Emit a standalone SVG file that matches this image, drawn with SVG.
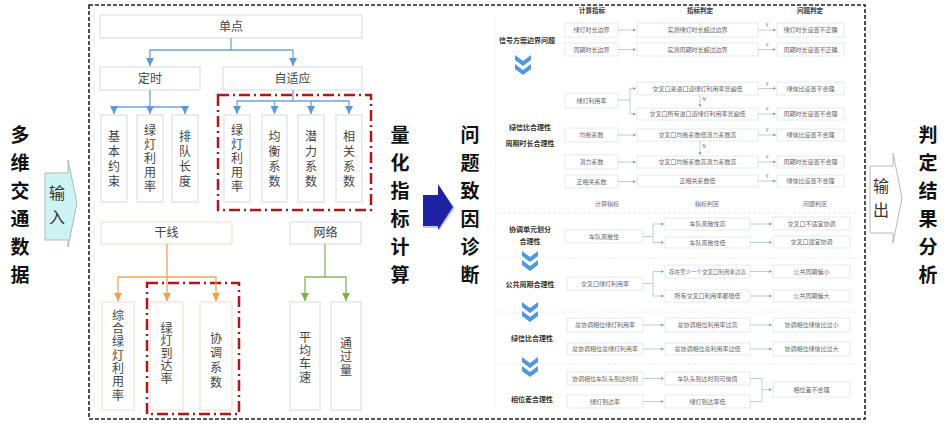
<svg xmlns="http://www.w3.org/2000/svg" width="948" height="429" viewBox="0 0 948 429">
<defs>
<style>
text{font-family:"Noto Sans CJK SC","Noto Sans",sans-serif;text-anchor:middle}
.v{writing-mode:vertical-rl;text-orientation:upright}
.big{font-size:19px;font-weight:bold;fill:#111}
.io{font-size:16px;fill:#333}
.t{font-size:12px;fill:#444}
.bx{fill:#fff;stroke:#d3dae2;stroke-width:1}
.bxo{fill:#fff;stroke:#f0dcc4;stroke-width:1}
.rd{fill:none;stroke:#b3151b;stroke-width:2.5;stroke-dasharray:11,4,2,4}
.cb{fill:none;stroke:#6ea6d8;stroke-width:1.3}
.co{fill:none;stroke:#f0a650;stroke-width:1.3}
.cg{fill:none;stroke:#86b85a;stroke-width:1.3}
.rb{fill:#fff;stroke:#dfe5ec;stroke-width:0.8}
.rc{fill:none;stroke:#9bbad6;stroke-width:0.7}
.s{font-size:6px;fill:#666}
.sh{font-size:6.5px;fill:#333;font-weight:bold}
.sl{font-size:7px;fill:#333;font-weight:bold}
.yn{font-size:5px;fill:#666}
.chev{fill:#4f97e0}
.sep{stroke:#ececec;stroke-width:1;stroke-dasharray:3,2}
</style>
<marker id="mb" viewBox="0 0 10 10" refX="10" refY="5" markerWidth="8" markerHeight="8" orient="auto" markerUnits="userSpaceOnUse"><path d="M0,0 L10,5 L0,10 z" fill="#5b9bd5"/></marker>
<marker id="mo" viewBox="0 0 10 10" refX="10" refY="5" markerWidth="8" markerHeight="8" orient="auto" markerUnits="userSpaceOnUse"><path d="M0,0 L10,5 L0,10 z" fill="#f0a040"/></marker>
<marker id="mg" viewBox="0 0 10 10" refX="10" refY="5" markerWidth="8" markerHeight="8" orient="auto" markerUnits="userSpaceOnUse"><path d="M0,0 L10,5 L0,10 z" fill="#7cb342"/></marker>
<marker id="ms" viewBox="0 0 10 10" refX="10" refY="5" markerWidth="3.5" markerHeight="3.5" orient="auto" markerUnits="userSpaceOnUse"><path d="M0,0 L10,5 L0,10 z" fill="#7fa8cc"/></marker>
</defs>

<rect width="948" height="429" fill="#fff"/>

<!-- outer dashed frame -->
<rect x="89" y="5" width="776" height="414" fill="none" stroke="#222" stroke-width="1.6" stroke-dasharray="4,2"/>

<!-- left title -->
<g id="title-input">
<text class="big v" x="20" y="135">多</text><text class="big v" x="20" y="163">维</text><text class="big v" x="20" y="191">交</text><text class="big v" x="20" y="219">通</text><text class="big v" x="20" y="247">数</text><text class="big v" x="20" y="275">据</text>
</g>
<g id="arrow-input">
<polygon points="45,173 68,173 68,160 77,203 68,247 68,240 45,240" fill="#cdf3f3" stroke="#a9b9bb" stroke-width="1"/>
<text class="io v" x="57" y="193">输</text><text class="io v" x="57" y="217">入</text>
</g>

<!-- top-left tree -->
<g id="n-dandian"><rect class="bx" x="100" y="15" width="262" height="23"/><text class="t" x="231" y="31">单点</text></g>
<g id="n-dingshi"><rect class="bx" x="100" y="67" width="100" height="23"/><text class="t" x="150" y="83">定时</text></g>
<g id="n-zishiying"><rect class="bx" x="223" y="67" width="139" height="23"/><text class="t" x="292.5" y="83">自适应</text></g>
<g id="n-jibenyueshu"><rect class="bx" x="101" y="115" width="26" height="87"/>
<text class="t v" x="114" y="136">基</text><text class="t v" x="114" y="151">本</text><text class="t v" x="114" y="166">约</text><text class="t v" x="114" y="181">束</text></g>
<g id="n-lvdeng1"><rect class="bx" x="137" y="115" width="26" height="87"/>
<text class="t v" x="150" y="130.5">绿</text><text class="t v" x="150" y="144.5">灯</text><text class="t v" x="150" y="158.5">利</text><text class="t v" x="150" y="172.5">用</text><text class="t v" x="150" y="186.5">率</text></g>
<g id="n-paidui"><rect class="bx" x="172" y="115" width="26" height="87"/>
<text class="t v" x="185" y="136">排</text><text class="t v" x="185" y="151">队</text><text class="t v" x="185" y="166">长</text><text class="t v" x="185" y="181">度</text></g>
<g id="n-lvdeng2"><rect class="bx" x="224" y="115" width="26" height="87"/>
<text class="t v" x="237" y="130.5">绿</text><text class="t v" x="237" y="144.5">灯</text><text class="t v" x="237" y="158.5">利</text><text class="t v" x="237" y="172.5">用</text><text class="t v" x="237" y="186.5">率</text></g>
<g id="n-junheng"><rect class="bx" x="262" y="115" width="25" height="87"/>
<text class="t v" x="274.5" y="136">均</text><text class="t v" x="274.5" y="151">衡</text><text class="t v" x="274.5" y="166">系</text><text class="t v" x="274.5" y="181">数</text></g>
<g id="n-qianli"><rect class="bx" x="298" y="115" width="26" height="87"/>
<text class="t v" x="311" y="136">潜</text><text class="t v" x="311" y="151">力</text><text class="t v" x="311" y="166">系</text><text class="t v" x="311" y="181">数</text></g>
<g id="n-xiangguan"><rect class="bx" x="336" y="115" width="26" height="87"/>
<text class="t v" x="349" y="136">相</text><text class="t v" x="349" y="151">关</text><text class="t v" x="349" y="166">系</text><text class="t v" x="349" y="181">数</text></g>

<!-- bottom-left tree -->
<g id="n-ganxian"><rect class="bxo" x="101" y="222" width="131" height="22"/><text class="t" x="166.5" y="237">干线</text></g>
<g id="n-wangluo"><rect class="bx" x="290" y="222" width="71" height="22"/><text class="t" x="325.5" y="237">网络</text></g>
<g id="n-zonghe"><rect class="bxo" x="102" y="302" width="32" height="108"/>
<text class="t v" x="118" y="315">综</text><text class="t v" x="118" y="328.3">合</text><text class="t v" x="118" y="341.7">绿</text><text class="t v" x="118" y="355">灯</text><text class="t v" x="118" y="368.3">利</text><text class="t v" x="118" y="381.7">用</text><text class="t v" x="118" y="395">率</text></g>
<g id="n-daoda"><rect class="bxo" x="150" y="302" width="33" height="108"/>
<text class="t v" x="166.5" y="328">绿</text><text class="t v" x="166.5" y="340.5">灯</text><text class="t v" x="166.5" y="353">到</text><text class="t v" x="166.5" y="365.5">达</text><text class="t v" x="166.5" y="378">率</text></g>
<g id="n-xietiao"><rect class="bxo" x="200" y="302" width="32" height="108"/>
<text class="t v" x="216" y="338">协</text><text class="t v" x="216" y="352.7">调</text><text class="t v" x="216" y="367.3">系</text><text class="t v" x="216" y="382">数</text></g>
<g id="n-pingjun"><rect class="bx" x="290" y="302" width="30" height="108"/>
<text class="t v" x="305" y="337">平</text><text class="t v" x="305" y="350.3">均</text><text class="t v" x="305" y="363.7">车</text><text class="t v" x="305" y="377">速</text></g>
<g id="n-tongguo"><rect class="bx" x="331" y="302" width="30" height="108"/>
<text class="t v" x="346" y="343">通</text><text class="t v" x="346" y="356.5">过</text><text class="t v" x="346" y="370">量</text></g>

<!-- red dash-dot highlight boxes -->
<rect class="rd" x="218" y="95" width="153" height="115"/>
<rect class="rd" x="147" y="283" width="92" height="131"/>

<!-- left connectors -->
<g id="connectors-left">
<path class="cb" d="M231,38 V50 H150 V66" marker-end="url(#mb)"/>
<path class="cb" d="M231,50 H293 V66" marker-end="url(#mb)"/>
<path class="cb" d="M150,90 V107 H114 V114" marker-end="url(#mb)"/>
<path class="cb" d="M150,107 V114" marker-end="url(#mb)"/>
<path class="cb" d="M150,107 H185 V114" marker-end="url(#mb)"/>
<path class="cb" d="M293,90 V101 H237 V114" marker-end="url(#mb)"/>
<path class="cb" d="M274.5,101 V114" marker-end="url(#mb)"/>
<path class="cb" d="M311,101 V114" marker-end="url(#mb)"/>
<path class="cb" d="M293,101 H349 V114" marker-end="url(#mb)"/>
<path class="co" d="M167,244 V277 H118 V301" marker-end="url(#mo)"/>
<path class="co" d="M167,277 V301" marker-end="url(#mo)"/>
<path class="co" d="M167,277 H216 V301" marker-end="url(#mo)"/>
<path class="cg" d="M325,244 V277 H305 V301" marker-end="url(#mg)"/>
<path class="cg" d="M325,277 H346 V301" marker-end="url(#mg)"/>
</g>

<!-- middle titles -->
<g id="title-calc">
<text class="big v" x="400" y="135">量</text><text class="big v" x="400" y="163">化</text><text class="big v" x="400" y="191">指</text><text class="big v" x="400" y="219">标</text><text class="big v" x="400" y="247">计</text><text class="big v" x="400" y="275">算</text>
</g>
<g id="arrow-mid">
<polygon points="425,197 439,197 439,186 455,208 439,231 439,228 423,228" fill="#c9cbd8"/>
<polygon points="423,195 438,195 438,184 453,207 438,230 438,226 423,226" fill="#1f23a3"/>
</g>
<g id="title-diag">
<text class="big v" x="470" y="135">问</text><text class="big v" x="470" y="163">题</text><text class="big v" x="470" y="191">致</text><text class="big v" x="470" y="219">因</text><text class="big v" x="470" y="247">诊</text><text class="big v" x="470" y="275">断</text>
</g>

<!-- right diagnosis chart -->
<line x1="495" y1="18" x2="495" y2="405" stroke="#f0f0f0" stroke-width="1"/>
<line class="sep" x1="498" y1="213" x2="860" y2="213"/>
<line class="sep" x1="498" y1="258" x2="860" y2="258"/>
<line class="sep" x1="498" y1="312" x2="860" y2="312"/>
<line class="sep" x1="498" y1="364" x2="860" y2="364"/>

<g id="r-headers">
<text class="sh" x="592" y="13">计算指标</text>
<text class="sh" x="700" y="13">指标判定</text>
<text class="sh" x="810" y="13">问题判定</text>
<text class="s" x="607" y="206">计算指标</text>
<text class="s" x="707" y="206">指标判定</text>
<text class="s" x="815" y="206">问题判定</text>
</g>

<g id="r-labels">
<text class="sl" x="527" y="43">信号方案边界问题</text>
<text class="sl" x="530" y="130">绿信比合理性</text>
<text class="sl" x="530" y="146">周期时长合理性</text>
<text class="sl" x="530" y="232">协调单元划分</text>
<text class="sl" x="530" y="244">合理性</text>
<text class="sl" x="530" y="287">公共周期合理性</text>
<text class="sl" x="532" y="341">绿信比合理性</text>
<text class="sl" x="532" y="402">相位差合理性</text>
</g>

<g id="r-chevrons">
<path class="chev" d="M515,55 L523,61 L531,55 L531,60 L523,66 L515,60 Z"/>
<path class="chev" d="M515,64 L523,70 L531,64 L531,69 L523,75 L515,69 Z"/>
<path class="chev" d="M522,251 L530,257 L538,251 L538,256 L530,262 L522,256 Z"/>
<path class="chev" d="M522,260 L530,266 L538,260 L538,265 L530,271 L522,265 Z"/>
<path class="chev" d="M522,302 L530,308 L538,302 L538,307 L530,313 L522,307 Z"/>
<path class="chev" d="M522,311 L530,317 L538,311 L538,316 L530,322 L522,316 Z"/>
<path class="chev" d="M522,357 L530,363 L538,357 L538,362 L530,368 L522,362 Z"/>
<path class="chev" d="M522,366 L530,372 L538,366 L538,371 L530,377 L522,371 Z"/>
</g>

<!-- top section boxes -->
<g id="r-c1"><rect class="rb" x="565" y="23" width="53" height="14"/><text class="s" x="591.5" y="32">绿灯时长边界</text></g>
<g id="r-c2"><rect class="rb" x="565" y="43" width="53" height="13"/><text class="s" x="591.5" y="51.5">周期时长边界</text></g>
<g id="r-i1"><rect class="rb" x="637" y="23" width="121" height="14"/><text class="s" x="697.5" y="32">实测绿灯时长超过边界</text></g>
<g id="r-i2"><rect class="rb" x="637" y="43" width="121" height="13"/><text class="s" x="697.5" y="51.5">实测周期时长超过边界</text></g>
<g id="r-p1"><rect class="rb" x="777" y="23" width="67" height="14"/><text class="s" x="810.5" y="32">绿灯时长设置不正确</text></g>
<g id="r-p2"><rect class="rb" x="777" y="43" width="67" height="13"/><text class="s" x="810.5" y="51.5">周期时长设置不正确</text></g>

<g id="r-c3"><rect class="rb" x="565" y="93" width="53" height="15"/><text class="s" x="591.5" y="102.5">绿灯利用率</text></g>
<g id="r-i3"><rect class="rb" x="637" y="82" width="121" height="13"/><text class="s" x="697.5" y="90.5">交叉口某进口道绿灯利用率普遍低</text></g>
<g id="r-i4"><rect class="rb" x="637" y="108" width="121" height="12"/><text class="s" x="697.5" y="116">交叉口所有进口道绿灯利用率普遍低</text></g>
<g id="r-p3"><rect class="rb" x="777" y="82" width="67" height="13"/><text class="s" x="810.5" y="90.5">绿信比设置不合理</text></g>
<g id="r-p4"><rect class="rb" x="777" y="108" width="67" height="12"/><text class="s" x="810.5" y="116">周期时长设置不合理</text></g>

<g id="r-c4"><rect class="rb" x="565" y="128" width="53" height="14"/><text class="s" x="591.5" y="137">均衡系数</text></g>
<g id="r-i5"><rect class="rb" x="637" y="129" width="121" height="12"/><text class="s" x="697.5" y="137">交叉口均衡系数低潜力系数高</text></g>
<g id="r-p5"><rect class="rb" x="777" y="129" width="67" height="12"/><text class="s" x="810.5" y="137">绿信比设置不合理</text></g>
<g id="r-c5"><rect class="rb" x="565" y="155" width="53" height="14"/><text class="s" x="591.5" y="164">潜力系数</text></g>
<g id="r-i6"><rect class="rb" x="637" y="156" width="121" height="12"/><text class="s" x="697.5" y="164">交叉口均衡系数高潜力系数高</text></g>
<g id="r-p6"><rect class="rb" x="777" y="156" width="67" height="12"/><text class="s" x="810.5" y="164">周期时长设置不合理</text></g>
<g id="r-c6"><rect class="rb" x="565" y="175" width="53" height="13"/><text class="s" x="591.5" y="183.5">正相关系数</text></g>
<g id="r-i7"><rect class="rb" x="637" y="175" width="121" height="12"/><text class="s" x="697.5" y="183">正相关系数低</text></g>
<g id="r-p7"><rect class="rb" x="777" y="175" width="67" height="12"/><text class="s" x="810.5" y="183">绿信比设置不合理</text></g>

<!-- lower section boxes -->
<g id="r-c7"><rect class="rb" x="565" y="230" width="78" height="13"/><text class="s" x="604" y="238.5">车队离散性</text></g>
<g id="r-i8"><rect class="rb" x="665" y="218" width="85" height="12"/><text class="s" x="707.5" y="226">车队离散性高</text></g>
<g id="r-i9"><rect class="rb" x="665" y="237" width="85" height="11"/><text class="s" x="707.5" y="244.5">车队离散性低</text></g>
<g id="r-p8"><rect class="rb" x="773" y="217" width="77" height="13"/><text class="s" x="811.5" y="225.5">交叉口不适宜协调</text></g>
<g id="r-p9"><rect class="rb" x="773" y="236" width="77" height="12"/><text class="s" x="811.5" y="244">交叉口适宜协调</text></g>

<g id="r-c8"><rect class="rb" x="567" y="277" width="76" height="13"/><text class="s" x="605" y="285.5">交叉口绿灯利用率</text></g>
<g id="r-i10"><rect class="rb" x="665" y="265" width="85" height="13"/><text class="s" style="font-size:5.5px" x="707.5" y="273.5">存在至少一个交叉口利用率过高</text></g>
<g id="r-i11"><rect class="rb" x="665" y="290" width="85" height="12"/><text class="s" x="707.5" y="298">所有交叉口利用率都很低</text></g>
<g id="r-p10"><rect class="rb" x="773" y="265" width="77" height="13"/><text class="s" x="811.5" y="273.5">公共周期偏小</text></g>
<g id="r-p11"><rect class="rb" x="773" y="290" width="77" height="12"/><text class="s" x="811.5" y="298">公共周期偏大</text></g>

<g id="r-c9"><rect class="rb" x="567" y="318" width="76" height="14"/><text class="s" x="605" y="327">总协调相位绿灯利用率</text></g>
<g id="r-c10"><rect class="rb" x="567" y="343" width="76" height="12"/><text class="s" x="605" y="351">总协调相位总绿灯利用率</text></g>
<g id="r-i12"><rect class="rb" x="665" y="318" width="85" height="14"/><text class="s" x="707.5" y="327">总协调相位利用率过高</text></g>
<g id="r-i13"><rect class="rb" x="665" y="343" width="85" height="12"/><text class="s" x="707.5" y="351">总协调相位总利用率过低</text></g>
<g id="r-p12"><rect class="rb" x="773" y="318" width="77" height="14"/><text class="s" x="811.5" y="327">协调相位绿信比过小</text></g>
<g id="r-p13"><rect class="rb" x="773" y="342" width="77" height="14"/><text class="s" x="811.5" y="351">协调相位绿信比过大</text></g>

<g id="r-c11"><rect class="rb" x="567" y="372" width="76" height="13"/><text class="s" x="605" y="380.5">协调相位车队头到达时刻</text></g>
<g id="r-c12"><rect class="rb" x="567" y="395" width="76" height="13"/><text class="s" x="605" y="403.5">绿灯到达率</text></g>
<g id="r-i14"><rect class="rb" x="665" y="372" width="85" height="13"/><text class="s" x="707.5" y="380.5">车队头到达时刻可信值</text></g>
<g id="r-i15"><rect class="rb" x="665" y="395" width="85" height="13"/><text class="s" x="707.5" y="403.5">绿灯到达率低</text></g>
<g id="r-p14"><rect class="rb" x="773" y="382" width="77" height="15"/><text class="s" x="811.5" y="391.5">相位差不合理</text></g>

<!-- right connectors -->
<g id="connectors-right">
<path class="rc" d="M618,30 H636" marker-end="url(#ms)"/>
<path class="rc" d="M618,49.5 H636" marker-end="url(#ms)"/>
<path class="rc" d="M758,30 H776" marker-end="url(#ms)"/>
<path class="rc" d="M758,49.5 H776" marker-end="url(#ms)"/>
<path class="rc" d="M618,100 H630 V88.5 H636" marker-end="url(#ms)"/>
<path class="rc" d="M630,100 V114 H636" marker-end="url(#ms)"/>
<path class="rc" d="M700,95 V107" marker-end="url(#ms)"/>
<path class="rc" d="M758,88.5 H776" marker-end="url(#ms)"/>
<path class="rc" d="M758,114 H776" marker-end="url(#ms)"/>
<path class="rc" d="M618,135 H636" marker-end="url(#ms)"/>
<path class="rc" d="M700,141 V155" marker-end="url(#ms)"/>
<path class="rc" d="M758,135 H776" marker-end="url(#ms)"/>
<path class="rc" d="M618,162 H636" marker-end="url(#ms)"/>
<path class="rc" d="M758,162 H776" marker-end="url(#ms)"/>
<path class="rc" d="M618,181.5 H636" marker-end="url(#ms)"/>
<path class="rc" d="M758,181 H776" marker-end="url(#ms)"/>
<path class="rc" d="M643,236.5 H653 V224 H664" marker-end="url(#ms)"/>
<path class="rc" d="M653,236.5 V242.5 H664" marker-end="url(#ms)"/>
<path class="rc" d="M750,224 H772" marker-end="url(#ms)"/>
<path class="rc" d="M750,242.5 H772" marker-end="url(#ms)"/>
<path class="rc" d="M643,283.5 H653 V271.5 H664" marker-end="url(#ms)"/>
<path class="rc" d="M653,283.5 V296 H664" marker-end="url(#ms)"/>
<path class="rc" d="M750,271.5 H772" marker-end="url(#ms)"/>
<path class="rc" d="M750,296 H772" marker-end="url(#ms)"/>
<path class="rc" d="M643,325 H664" marker-end="url(#ms)"/>
<path class="rc" d="M643,349 H664" marker-end="url(#ms)"/>
<path class="rc" d="M750,325 H772" marker-end="url(#ms)"/>
<path class="rc" d="M750,349 H772" marker-end="url(#ms)"/>
<path class="rc" d="M643,378.5 H664" marker-end="url(#ms)"/>
<path class="rc" d="M643,401.5 H664" marker-end="url(#ms)"/>
<path class="rc" d="M750,378.5 H762 V401.5 H750"/>
<path class="rc" d="M762,389.5 H772" marker-end="url(#ms)"/>
</g>
<g id="r-yn">
<text class="yn" x="767" y="27">Y</text>
<text class="yn" x="767" y="46.5">Y</text>
<text class="yn" x="767" y="85.5">Y</text>
<text class="yn" x="767" y="111">Y</text>
<text class="yn" x="767" y="132">Y</text>
<text class="yn" x="767" y="159">Y</text>
<text class="yn" x="767" y="178">Y</text>
<text class="yn" x="704" y="101">N</text>
<text class="yn" x="704" y="148">N</text>
</g>

<!-- output -->
<g id="arrow-output">
<polygon points="870,166 893,166 893,153 902,198 893,243 893,233 870,233" fill="#fff" stroke="#b5bcc2" stroke-width="1"/>
<text class="io v" x="881" y="186">输</text><text class="io v" x="881" y="210">出</text>
</g>
<g id="title-result">
<text class="big v" x="928" y="135">判</text><text class="big v" x="928" y="163">定</text><text class="big v" x="928" y="191">结</text><text class="big v" x="928" y="219">果</text><text class="big v" x="928" y="247">分</text><text class="big v" x="928" y="275">析</text>
</g>
</svg>
